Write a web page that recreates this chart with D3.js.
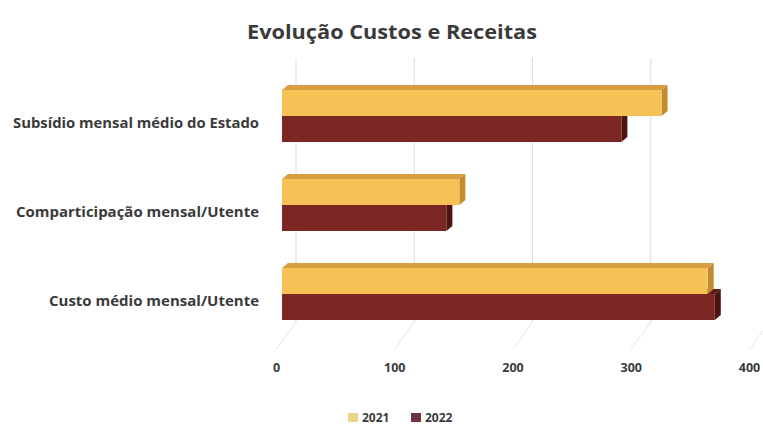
<!DOCTYPE html>
<html>
<head>
<meta charset="utf-8">
<script src="https://cdn.jsdelivr.net/npm/d3@7"></script>
<style>
  html, body { margin: 0; padding: 0; background: #ffffff; }
  svg { display: block; }
  text { font-family: "Open Sans", "DejaVu Sans", sans-serif; font-weight: bold; fill: #3a3a3a; }
</style>
</head>
<body>
<svg id="chart" width="763" height="428"></svg>
<script>
// Categories, top to bottom
const categories = [
  "Subsídio mensal médio do Estado",
  "Comparticipação mensal/Utente",
  "Custo médio mensal/Utente"
];
const seriesNames = ["2021", "2022"];
const values2021 = [321, 150, 360];
const values2022 = [287, 139, 366];
const tickValues = [0, 100, 200, 300, 400];

const colors = {
  "2021": { front: "#F6C256", top: "#D99E42", side: "#C48A30", legend: "#EED38A" },
  "2022": { front: "#7B2824", top: "#5C1C18", side: "#4C1511", legend: "#6E3440" }
};

const svg = d3.select("#chart");

// Back wall, bar front plane and floor front edge share one value scale, offset for depth
const xBack = d3.scaleLinear().domain([0, 400]).range([296, 769]);
const xBar = d3.scaleLinear().domain([0, 400]).range([282, 755]);
const xFront = d3.scaleLinear().domain([0, 400]).range([276, 749]);

const yCenter = d3.scalePoint().domain(categories).range([116, 294]);
const ySub = d3.scaleBand().domain(seriesNames).range([-26, 26]).padding(0);

const wallTop = 58, wallBottom = 322, floorFront = 350;
const dx = 6, dy = 5;

// Title
svg.append("text")
  .attr("x", 392).attr("y", 39)
  .attr("text-anchor", "middle")
  .attr("font-size", 20)
  .attr("fill", "#2a2a2a")
  .attr("textLength", 290).attr("lengthAdjust", "spacingAndGlyphs")
  .text("Evolução Custos e Receitas");

// Gridlines on the back wall and the floor
const grid = svg.append("g").attr("stroke", "#dcdcdc").attr("stroke-width", 1).attr("fill", "none");
tickValues.forEach(v => {
  grid.append("line")
    .attr("x1", xBack(v)).attr("x2", xBack(v))
    .attr("y1", wallTop).attr("y2", wallBottom);
  grid.append("line")
    .attr("x1", xBack(v)).attr("y1", wallBottom)
    .attr("x2", xFront(v)).attr("y2", floorFront)
    .attr("stroke", "#e6e6e6");
});

// Value axis labels along the front of the floor
const axis = d3.axisBottom(xFront).tickValues(tickValues).tickSize(0).tickPadding(0);
const axisG = svg.append("g").attr("transform", "translate(0,372)").call(axis);
axisG.select(".domain").remove();
axisG.selectAll("text")
  .attr("y", 0).attr("dy", 0)
  .attr("font-size", 12.5)
  .style("font-family", "'Open Sans', sans-serif")
  .style("font-weight", "bold")
  .attr("fill", "#3a3a3a");

// Category labels
const labelWidths = [246, 243, 210];
svg.append("g").selectAll("text")
  .data(categories)
  .join("text")
  .attr("x", 259)
  .attr("y", d => yCenter(d) + 12)
  .attr("text-anchor", "end")
  .attr("font-size", 13.5)
  .attr("textLength", (d, i) => labelWidths[i])
  .attr("lengthAdjust", "spacingAndGlyphs")
  .text(d => d);

// 3D bars: lower series first so the upper bar sits on top of it
const bars = [];
categories.forEach((c, i) => {
  bars.push({ cat: c, series: "2022", value: values2022[i] });
  bars.push({ cat: c, series: "2021", value: values2021[i] });
});
const order = ["2022", "2021"];
const barG = svg.append("g");
categories.forEach(c => {
  order.forEach(s => {
    const b = bars.find(d => d.cat === c && d.series === s);
    const x0 = xBar(0), x1 = xBar(b.value);
    const y0 = yCenter(c) + ySub(s);
    const h = ySub.bandwidth();
    const col = colors[s];
    const g = barG.append("g");
    g.append("polygon")
      .attr("points", [[x0, y0], [x0 + dx, y0 - dy], [x1 + dx, y0 - dy], [x1, y0]].join(" "))
      .attr("fill", col.top);
    g.append("polygon")
      .attr("points", [[x1, y0], [x1 + dx, y0 - dy], [x1 + dx, y0 + h - dy], [x1, y0 + h]].join(" "))
      .attr("fill", col.side);
    g.append("rect")
      .attr("x", x0).attr("y", y0)
      .attr("width", x1 - x0).attr("height", h)
      .attr("fill", col.front);
  });
});

// Legend
const legend = svg.append("g").attr("transform", "translate(348,418)");
const legendX = { "2021": 0, "2022": 63 };
seriesNames.forEach(s => {
  const lg = legend.append("g").attr("transform", `translate(${legendX[s]},0)`);
  lg.append("rect").attr("x", 0).attr("y", -5).attr("width", 10).attr("height", 9)
    .attr("fill", colors[s].legend);
  lg.append("text").attr("x", 14).attr("y", 4)
    .attr("font-size", 12)
    .text(s);
});
</script>
</body>
</html>
